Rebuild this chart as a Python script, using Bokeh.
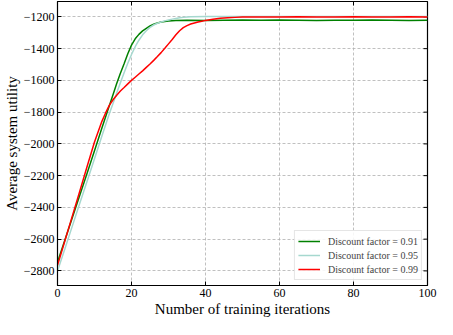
import math
from bokeh.plotting import figure
from bokeh.models import Range1d, FixedTicker, Legend, LegendItem
from bokeh.embed import file_html
from bokeh.resources import INLINE

labels = ["Discount factor = 0.91", "Discount factor = 0.95", "Discount factor = 0.99"]
colors = ["#008000", "#a6d8cf", "#ff0000"]

x_ticks = [0, 20, 40, 60, 80, 100]
y_ticks = [-2800, -2600, -2400, -2200, -2000, -1800, -1600, -1400, -1200]

x_091 = [0, 2, 4, 6, 8, 10, 12, 14, 15, 16, 17, 18, 19, 20, 21, 22, 23, 24, 25, 26, 27, 28, 30, 32, 35,
         40, 45, 50, 55, 60, 65, 70, 75, 80, 85, 90, 95, 100]
y_091 = [-2745, -2605, -2465, -2325, -2185, -2043, -1900, -1760, -1690, -1620, -1555, -1495, -1432,
         -1378, -1338, -1310, -1288, -1272, -1257, -1246, -1238, -1232, -1226, -1223, -1221,
         -1222, -1221, -1220, -1221, -1220, -1221, -1222, -1221, -1221, -1220, -1221, -1222, -1221]

x_095 = [0, 2, 4, 6, 8, 10, 12, 14, 15, 16, 17, 18, 19, 20, 21, 22, 23, 24, 25, 26, 27, 28, 29, 30,
         31, 32, 33, 34, 35, 36, 40, 45, 50, 55, 60, 65, 70, 75, 80, 85, 90, 95, 100]
y_095 = [-2800, -2660, -2518, -2376, -2235, -2093, -1950, -1810, -1745, -1680, -1615, -1552, -1492,
         -1437, -1388, -1347, -1313, -1287, -1266, -1251, -1240, -1232, -1225, -1219,
         -1214, -1210, -1206, -1203, -1201, -1199, -1198, -1197, -1198, -1198, -1197, -1198,
         -1198, -1197, -1198, -1198, -1197, -1198, -1198]

x_099 = [0, 2, 4, 6, 8, 10, 12, 13, 14, 15, 16, 17, 18, 19, 20, 21, 22, 23, 24, 25, 26, 27, 28, 29,
         30, 31, 32, 33, 34, 35, 36, 37, 38, 39, 40, 42, 44, 46, 48, 50, 55, 60, 65, 70, 75, 80,
         85, 90, 95, 100]
y_099 = [-2765, -2610, -2455, -2300, -2142, -1988, -1858, -1805, -1757, -1722, -1693, -1667, -1645,
         -1622, -1600, -1580, -1560, -1540, -1518, -1497, -1474, -1450, -1425, -1398,
         -1370, -1342, -1313, -1287, -1268, -1255, -1245, -1238, -1232, -1227, -1222, -1215,
         -1209, -1205, -1203, -1201, -1200, -1200, -1199, -1200, -1200, -1199, -1200, -1200,
         -1199, -1200]

FONT = "Liberation Serif"
X0, X1 = 0, 100
Y0, Y1 = -2892, -1103

p = figure(width=437, height=319, x_range=Range1d(X0, X1), y_range=Range1d(Y0, Y1),
           output_backend="svg", toolbar_location=None,
           min_border_left=4, min_border_right=10, min_border_top=1, min_border_bottom=1)

p.outline_line_color = "black"
p.outline_line_width = 1.2

for ax in (p.xaxis[0], p.yaxis[0]):
    ax.major_tick_in = 4
    ax.major_tick_out = 0
    ax.minor_tick_line_color = None
    ax.axis_line_color = "black"
    ax.major_tick_line_color = "black"
    ax.major_label_text_font = FONT
    ax.major_label_text_font_size = "12px"
    ax.major_label_text_color = "black"
    ax.axis_label_text_font = FONT
    ax.axis_label_text_font_size = "15px"
    ax.axis_label_text_font_style = "normal"
    ax.axis_label_text_color = "black"
    ax.major_label_standoff = 3
    ax.axis_label_standoff = 1

p.xaxis.ticker = FixedTicker(ticks=x_ticks)
p.yaxis.ticker = FixedTicker(ticks=y_ticks)
p.xaxis.axis_label = "Number of training iterations"
p.yaxis.axis_label = "Average system utility"

p.xgrid.ticker = FixedTicker(ticks=x_ticks)
p.ygrid.ticker = FixedTicker(ticks=y_ticks)
for g in (p.xgrid[0], p.ygrid[0]):
    g.grid_line_color = "#b0b0b0"
    g.grid_line_dash = "3 2"
    g.grid_line_width = 0.8

# inward ticks on the right and top borders (half of each dash is clipped by the frame)
p.scatter([X1] * len(y_ticks), y_ticks, marker="dash", size=8, line_color="black", line_width=1)
p.scatter(x_ticks, [Y1] * len(x_ticks), marker="dash", size=8, angle=math.pi / 2,
          line_color="black", line_width=1)

r1 = p.line(x_091, y_091, line_color=colors[0], line_width=1.5)
r2 = p.line(x_095, y_095, line_color=colors[1], line_width=1.5)
r3 = p.line(x_099, y_099, line_color=colors[2], line_width=1.5)

legend = Legend(items=[LegendItem(label=labels[0], renderers=[r1]),
                       LegendItem(label=labels[1], renderers=[r2]),
                       LegendItem(label=labels[2], renderers=[r3])],
                location="bottom_right")
legend.label_text_font = FONT
legend.label_text_font_size = "10px"
legend.label_height = 14
legend.glyph_height = 14
legend.glyph_width = 22
legend.label_standoff = 8
legend.spacing = 0
legend.padding = 3
legend.margin = 5
legend.border_line_color = "#cccccc"
legend.border_line_width = 1
legend.background_fill_alpha = 0.85
p.add_layout(legend)

open("out.html", "w").write(file_html(p, INLINE))
